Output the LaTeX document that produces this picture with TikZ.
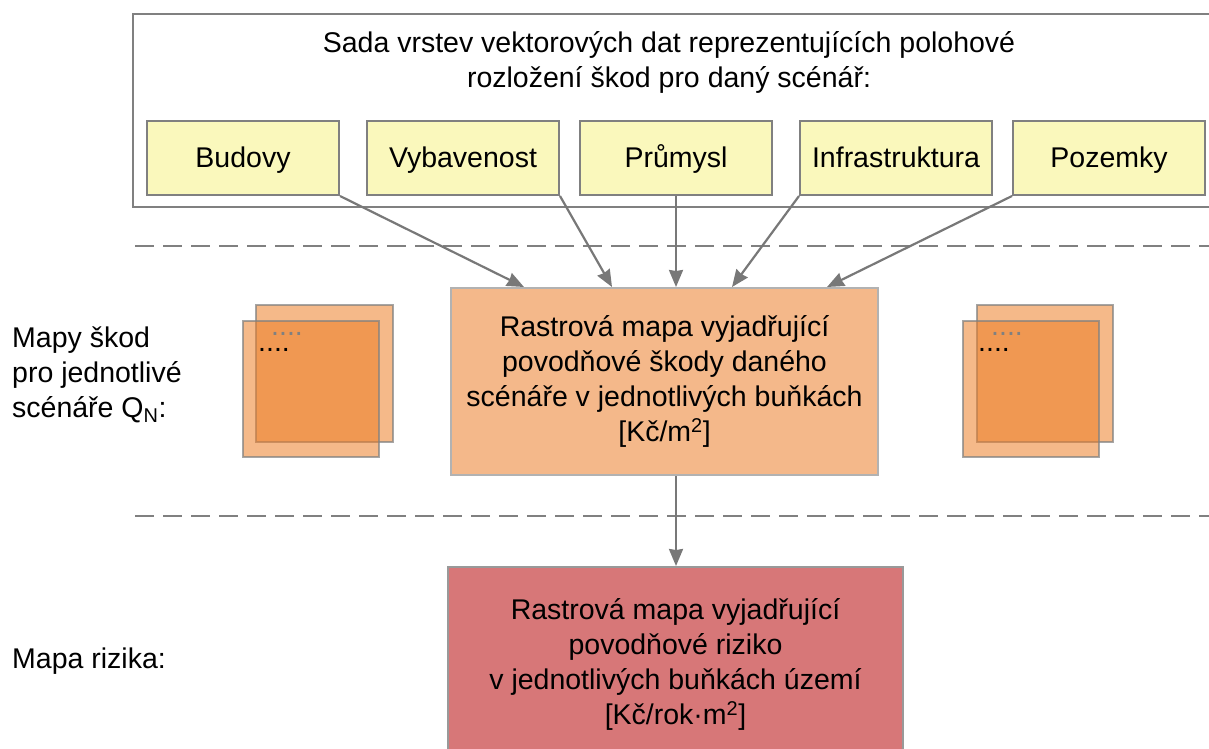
\documentclass[tikz,border=0pt]{standalone}
\usepackage{fontspec}
\setmainfont{Liberation Sans}
\usetikzlibrary{arrows.meta,positioning}
\definecolor{zluta}{RGB}{250,248,188}
\definecolor{seda}{RGB}{128,128,128}
\definecolor{svetleseda}{RGB}{178,178,178}
\definecolor{sipkaseda}{RGB}{120,120,120}
\definecolor{oranzova}{RGB}{244,184,138}
\definecolor{sytaoranz}{RGB}{236,123,33}
\definecolor{cervena}{RGB}{215,119,120}
\begin{document}
\begin{tikzpicture}[x=1pt, y=-1pt,
  pismo/.style={font=\fontsize{28.5}{35}\selectfont},
  vrstva/.style={pismo, draw=seda, line width=2pt, fill=zluta, minimum width=192pt, minimum height=74pt, inner sep=0pt, text height=24pt, text depth=5pt},
  mapa/.style={pismo, draw=svetleseda, line width=2pt, align=center, inner sep=0pt},
  sipka/.style={-{Stealth[length=17pt,width=14pt,inset=1pt]}, draw=sipkaseda, line width=2.2pt},
  deleni/.style={draw=seda, line width=2pt, dash pattern=on 19pt off 9pt},
  ctverec/.style={fill=sytaoranz, fill opacity=0.53, draw=seda, draw opacity=0.7, line width=2.5pt},
  tecky/.style={pismo, anchor=base west, inner sep=0pt}]
  \useasboundingbox (0,0) rectangle (1209,748);
  \clip (0,0) rectangle (1209,748);

  % Vrstvy
  \draw[draw=seda, line width=2pt] (133,14) rectangle (1222,207);
  \node[pismo, align=center] (nadpis) at (669,62) {Sada vrstev vektorových dat reprezentujících polohové\\rozložení škod pro daný scénář:};
  \node[vrstva] (budovy) at (243,158) {Budovy};
  \node[vrstva] (vybavenost) at (463,158) {Vybavenost};
  \node[vrstva] (prumysl) at (676,158) {Průmysl};
  \node[vrstva] (infra) at (896,158) {Infrastruktura};
  \node[vrstva] (pozemky) at (1109,158) {Pozemky};

  % Deleni
  \coordinate (d1a) at (135,246);
  \coordinate (d1b) at (1209,246);
  \coordinate (d2a) at (135,516);
  \coordinate (d2b) at (1209,516);
  \draw[deleni] (d1a) -- (d1b);
  \draw[deleni] (d2a) -- (d2b);

  % Mapy
  \node[mapa, fill=oranzova, minimum width=427pt, minimum height=187pt] (stred) at (664.5,381.5) {Rastrová mapa vyjadřující\\povodňové škody daného\\scénáře v jednotlivých buňkách\\{[}Kč/m\textsuperscript{2}]};
  \node[mapa, draw=seda!80, fill=cervena, minimum width=455pt, minimum height=194pt] (riziko) at (675.5,664) {Rastrová mapa vyjadřující\\povodňové riziko\\v jednotlivých buňkách území\\{[}Kč/rok·m\textsuperscript{2}]};

  % Popisky
  \node[pismo, align=left, anchor=west, inner sep=0pt] (mapyskod) at (12,375) {Mapy škod\\pro jednotlivé\\scénáře Q\textsubscript{N}:};
  \node[pismo, anchor=base west, inner sep=0pt] (maparizika) at (12,668) {Mapa rizika:};

  % Scenare
  \draw[ctverec] (256,305) rectangle (393,442);
  \draw[ctverec] (243,321) rectangle (379,457);
  \node[tecky, text=seda] (tl1) at (271,335) {....};
  \node[tecky] (tl2) at (258,351) {....};
  \draw[ctverec] (977,305) rectangle (1113,442);
  \draw[ctverec] (963,321) rectangle (1099,457);
  \node[tecky, text=seda] (tp1) at (991,335) {....};
  \node[tecky] (tp2) at (978,351) {....};

  % Sipky
  \draw[sipka] (budovy.south east) -- ([xshift=74pt]stred.north west);
  \draw[sipka] (vybavenost.south east) -- ([xshift=162pt]stred.north west);
  \draw[sipka] (prumysl.south) -- (prumysl.south |- stred.north);
  \draw[sipka] (infra.south west) -- ([xshift=282pt]stred.north west);
  \draw[sipka] (pozemky.south west) -- ([xshift=377pt]stred.north west);
  \draw[sipka] (prumysl.south |- stred.south) -- (prumysl.south |- riziko.north);
\end{tikzpicture}
\end{document}
